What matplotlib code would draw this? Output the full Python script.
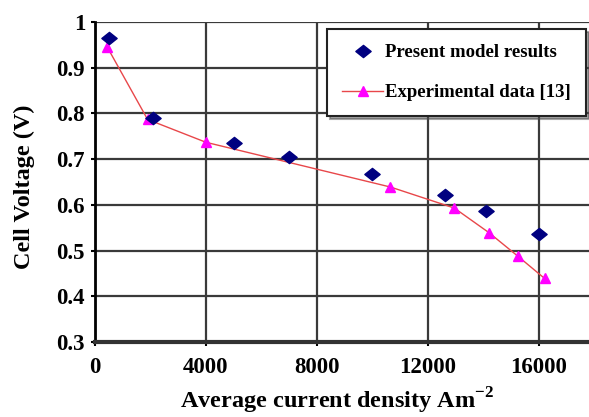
import matplotlib
matplotlib.use("Agg")
import matplotlib.pyplot as plt
from matplotlib.path import Path

model_x = [500, 2100, 5000, 7000, 10000, 12600, 14100, 16000]
model_y = [0.965, 0.790, 0.735, 0.705, 0.667, 0.621, 0.586, 0.536]
exp_x = [450, 1900, 4000, 10650, 12950, 14200, 15250, 16200]
exp_y = [0.945, 0.787, 0.737, 0.639, 0.593, 0.539, 0.487, 0.439]
xticks = [0, 4000, 8000, 12000, 16000]
yticks = [0.3, 0.4, 0.5, 0.6, 0.7, 0.8, 0.9, 1.0]
ytick_labels = ["0.3", "0.4", "0.5", "0.6", "0.7", "0.8", "0.9", "1"]

plt.rcParams['font.family'] = ['Liberation Serif', 'DejaVu Serif']
plt.rcParams['font.weight'] = 'bold'
plt.rcParams['mathtext.fontset'] = 'custom'
plt.rcParams['mathtext.bf'] = 'Liberation Serif:bold'
plt.rcParams['mathtext.rm'] = 'Liberation Serif:bold'

fig = plt.figure(figsize=(5.89, 4.17), dpi=100)
ax = fig.add_axes([0.161, 0.18, 0.839, 0.767])

diamond = Path([(-1.25, 0), (0, 1), (1.25, 0), (0, -1), (-1.25, 0)],
               [Path.MOVETO, Path.LINETO, Path.LINETO, Path.LINETO, Path.CLOSEPOLY])

ax.plot(exp_x, exp_y, color='#e8474a', lw=1.0, marker='^', markersize=6.5,
        markerfacecolor='#ff00ff', markeredgecolor='#ff00ff',
        label='Experimental data [13]', zorder=3)
ax.plot(model_x, model_y, linestyle='none', marker=diamond, markersize=11,
        color='#000080', label='Present model results', zorder=4)

ax.set_xlim(0, 17800)
ax.set_ylim(0.3, 1.0)
ax.set_xticks(xticks)
ax.set_yticks(yticks)
ax.set_yticklabels(ytick_labels)
ax.tick_params(labelsize=16.5, length=3, width=1.5, pad=4)
ax.tick_params(axis='x', pad=8)
for lbl in ax.get_xticklabels() + ax.get_yticklabels():
    lbl.set_fontweight('bold')

ax.grid(True, color='#3a3a3a', lw=1.6)
ax.set_axisbelow(True)
for s in ['top', 'right']:
    ax.spines[s].set_visible(False)
ax.spines['left'].set_linewidth(2)
ax.spines['left'].set_color('black')
ax.spines['bottom'].set_linewidth(3)
ax.spines['bottom'].set_color('#333333')

ax.set_xlabel('Average current density Am$^{\\mathbf{-2}}$', fontsize=17.5,
              fontweight='bold')
ax.xaxis.set_label_coords(0.49, -0.185)
ax.xaxis.label.set_va('center')
ax.set_ylabel('Cell Voltage (V)', fontsize=17.5, fontweight='bold')
ax.yaxis.set_label_coords(-0.142, 0.484)
ax.yaxis.label.set_va('center')

handles, labels = ax.get_legend_handles_labels()
leg = ax.legend(handles[::-1], labels[::-1], loc='upper right',
                bbox_to_anchor=(1.005, 0.995), fontsize=13.5, frameon=True,
                fancybox=False, shadow=True, borderpad=0.8, labelspacing=1.2,
                handlelength=2.2, handletextpad=0.1, borderaxespad=0.3)
leg.get_frame().set_edgecolor('#222222')
leg.get_frame().set_linewidth(1.5)
for t in leg.get_texts():
    t.set_fontweight('bold')

fig.savefig('out.png', dpi=100)
